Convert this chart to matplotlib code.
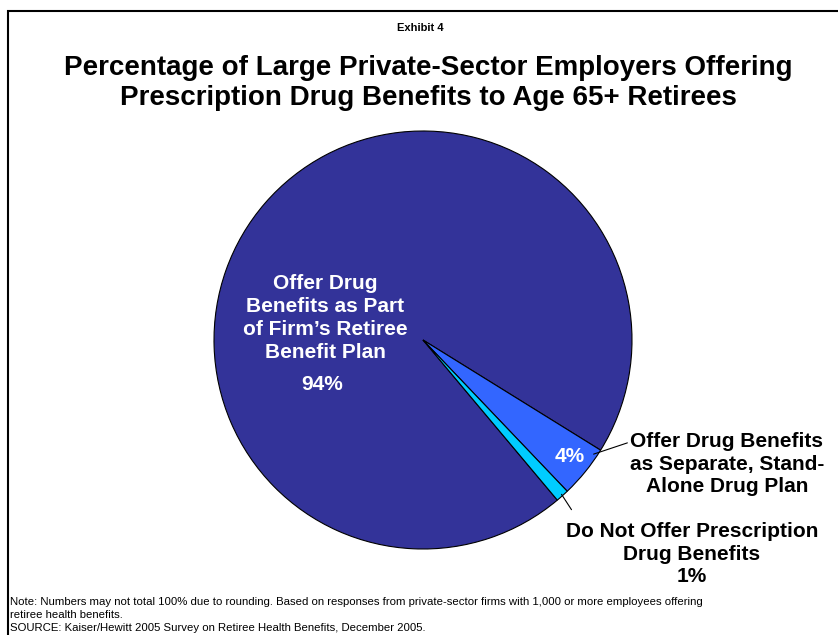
import numpy as np
import matplotlib.pyplot as plt
from matplotlib.patches import Rectangle

plt.rcParams['font.family'] = ['Liberation Sans', 'DejaVu Sans']

# Slice data
labels = ["Offer Drug\nBenefits as Part\nof Firm\u2019s Retiree\nBenefit Plan",
          "Offer Drug Benefits\nas Separate, Stand-\nAlone Drug Plan",
          "Do Not Offer Prescription\nDrug Benefits"]
values = [94, 4, 1]
colors = ['#333399', '#3366FF', '#00CCFF']

W, H = 838, 635
fig = plt.figure(figsize=(W / 100, H / 100), dpi=100)

def fx(px):
    return px / W

def fy(py):
    return 1 - py / H

# frame around the exhibit (right side runs off the page)
fig.patches.append(Rectangle((fx(7.5), fy(700)), fx(900), fy(10.5) - fy(700),
                             transform=fig.transFigure, fill=False,
                             edgecolor='black', linewidth=1.5))

# pie axes: centre (423, 340) px, radius 209 px
cx, cy, r = 423, 340, 209
ax = fig.add_axes([fx(cx - r), fy(cy + r), 2 * r / W, 2 * r / H])
wedges, _ = ax.pie(values, colors=colors, startangle=-50, counterclock=False,
                   radius=1, wedgeprops=dict(edgecolor='black', linewidth=0.8))
ax.set_xlim(-1, 1)
ax.set_ylim(-1, 1)
ax.set_aspect('equal')
ax.axis('off')

def dxy(px, py):
    return ((px - cx) / r, (cy - py) / r)

# labels inside the slices
ax.text(*dxy(325, 318), labels[0], ha='center', va='center', color='white',
        fontsize=15, fontweight='bold', linespacing=1.28)
ax.text(*dxy(322, 385), f"{values[0]}%", ha='center', va='center',
        color='white', fontsize=15, fontweight='bold')
ax.text(*dxy(570, 457), f"{values[1]}%", ha='center', va='center',
        color='white', fontsize=15, fontweight='bold')

# outside labels with leader lines
ax.annotate('', xy=dxy(591, 455), xytext=dxy(630, 442),
            arrowprops=dict(arrowstyle='-', color='black', lw=0.8))
ax.text(*dxy(727, 464), labels[1], ha='center', va='center', color='black',
        fontsize=15, fontweight='bold', linespacing=1.23)

ax.annotate('', xy=dxy(560, 492), xytext=dxy(573, 512),
            arrowprops=dict(arrowstyle='-', color='black', lw=0.8))
ax.text(*dxy(692, 554), labels[2] + f"\n{values[2]}%", ha='center', va='center',
        color='black', fontsize=15, fontweight='bold', linespacing=1.24)

# titles
fig.text(fx(420), fy(28), "Exhibit 4", ha='center', va='center',
         fontsize=8, fontweight='bold')
fig.text(fx(428), fy(83), "Percentage of Large Private-Sector Employers Offering\n"
         "Prescription Drug Benefits to Age 65+ Retirees",
         ha='center', va='center', fontsize=20, fontweight='bold', linespacing=1.22)

# notes
fig.text(fx(10), fy(597), "Note: Numbers may not total 100% due to rounding. Based on "
         "responses from private-sector firms with 1,000 or more employees offering\n"
         "retiree health benefits.\n"
         "SOURCE: Kaiser/Hewitt 2005 Survey on Retiree Health Benefits, December 2005.",
         ha='left', va='top', fontsize=8.2, linespacing=1.38)

fig.savefig('out.png', dpi=100)
